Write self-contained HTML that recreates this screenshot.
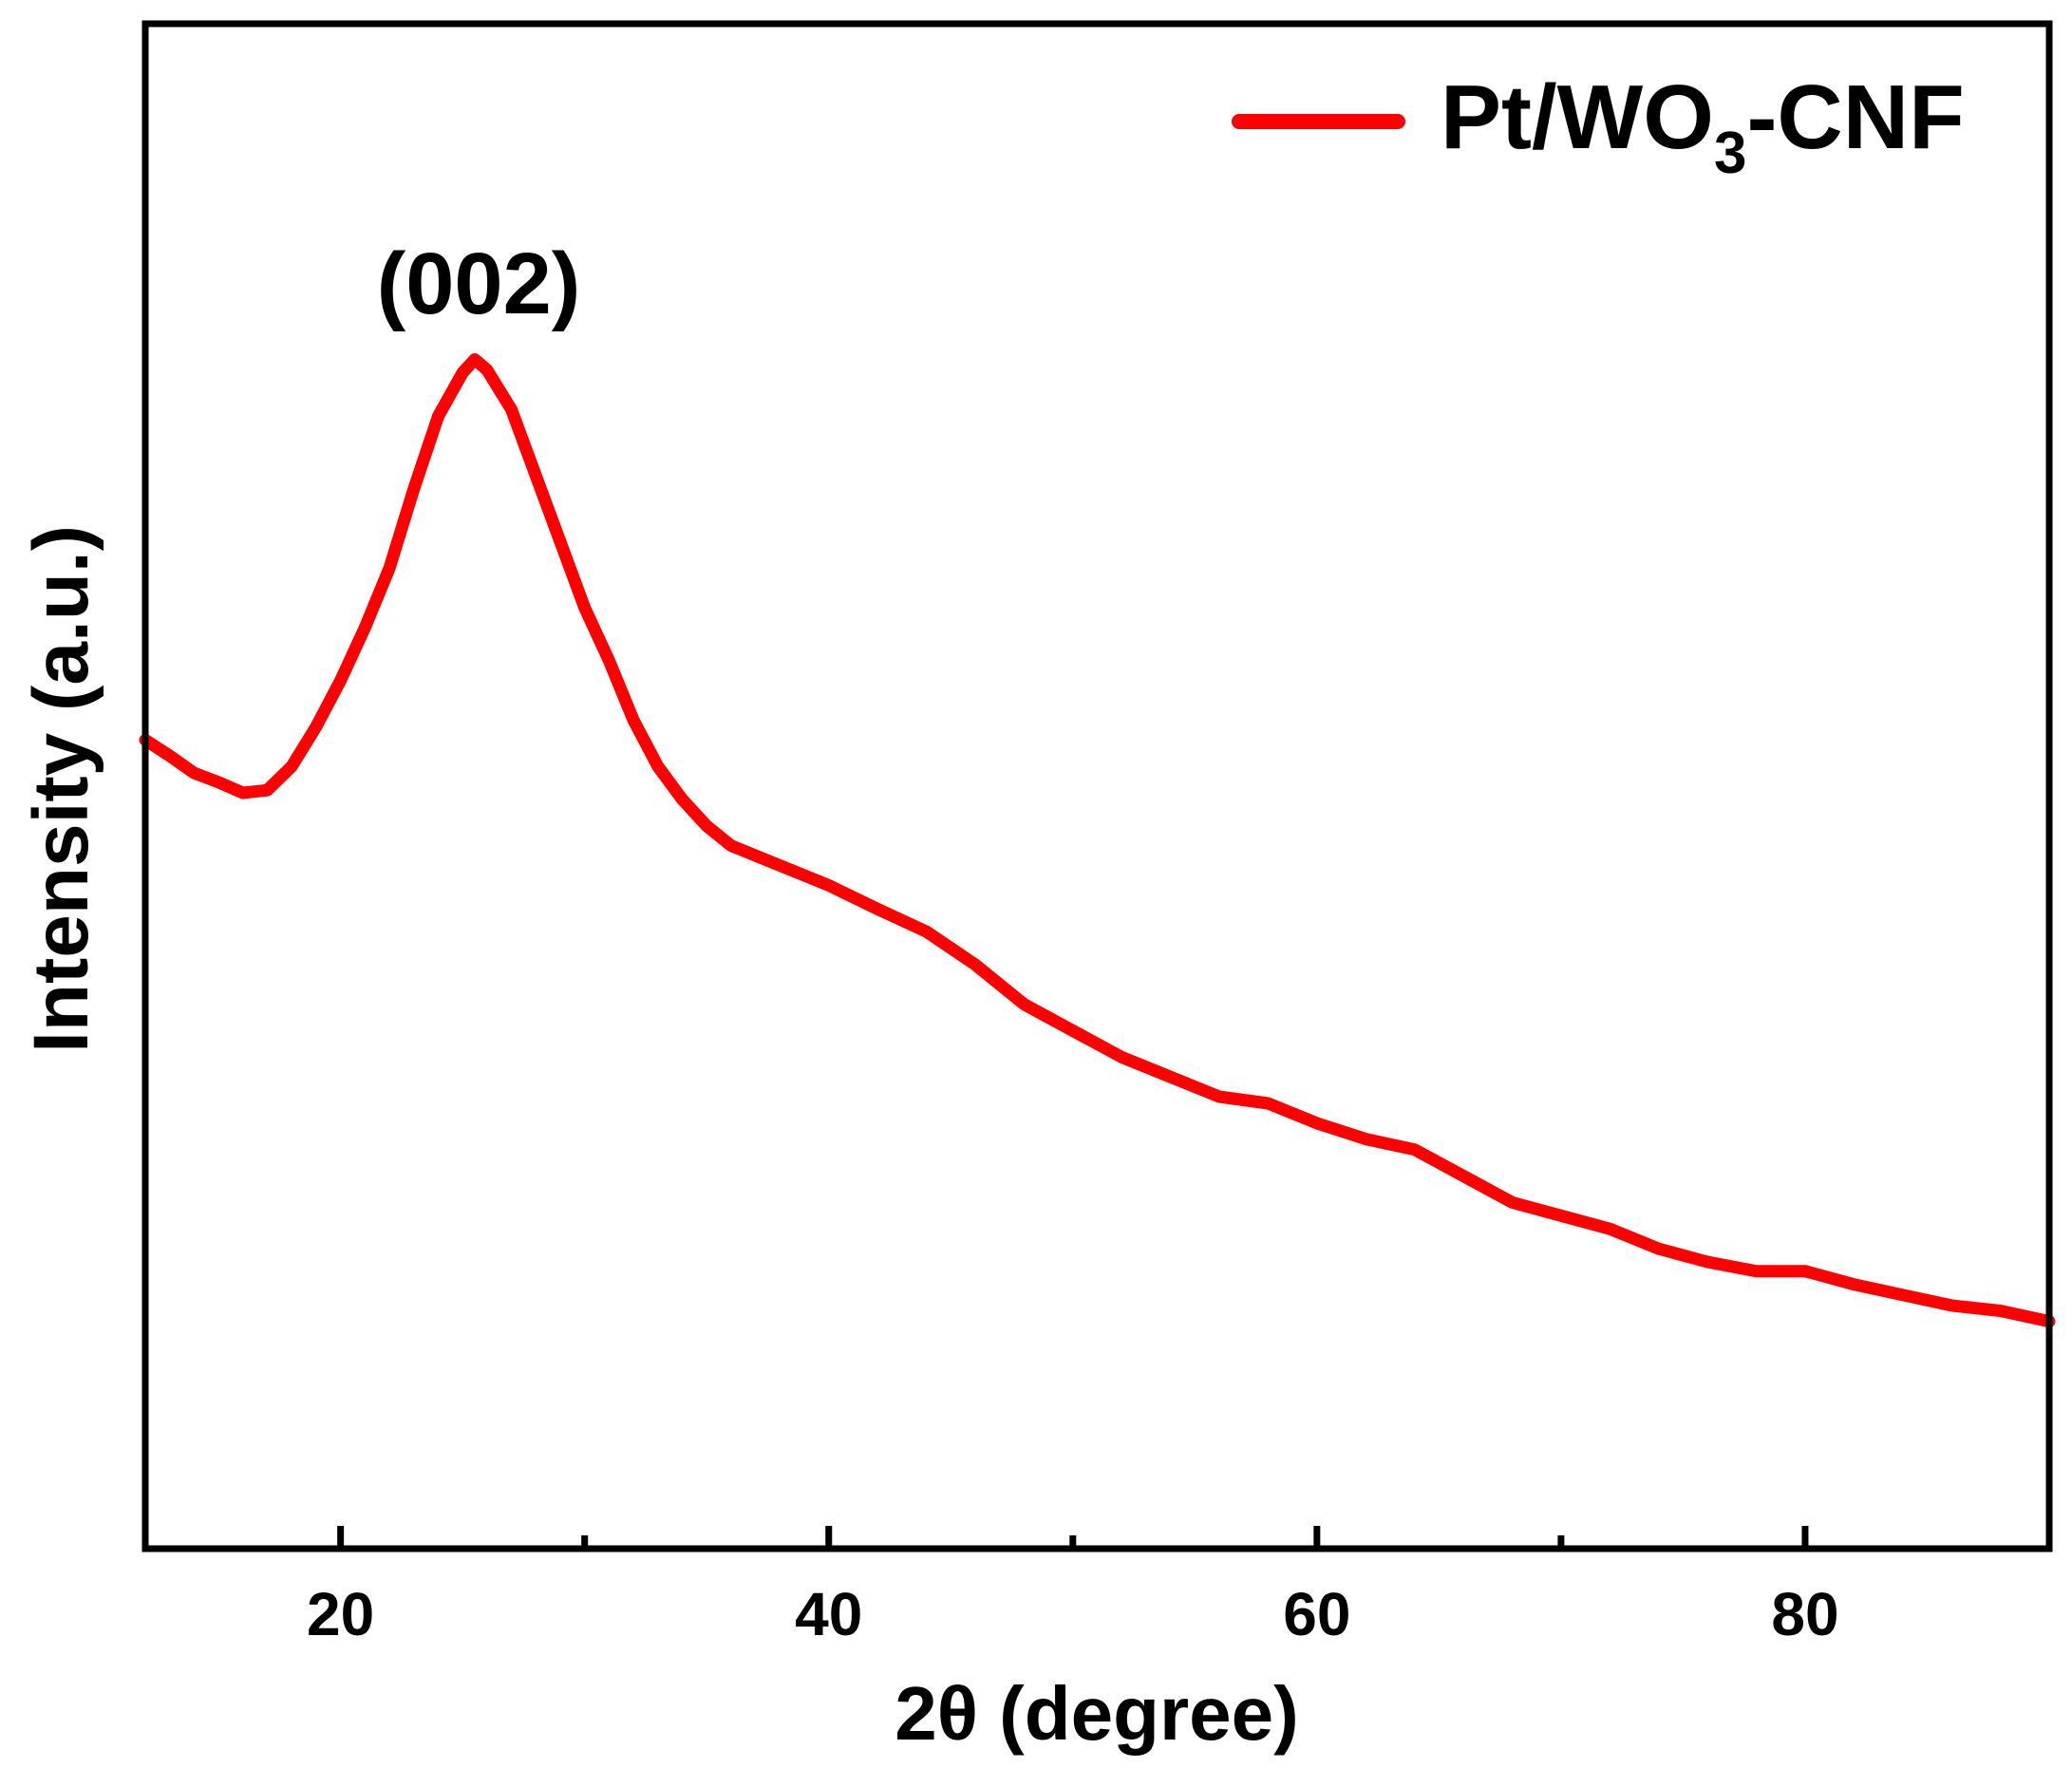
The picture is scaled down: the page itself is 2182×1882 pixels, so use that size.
<!DOCTYPE html>
<html><head><meta charset="utf-8"><style>
html,body{margin:0;padding:0;background:#fff;}
svg{display:block;font-family:"Liberation Sans",sans-serif;font-weight:bold;}
</style></head><body>
<svg id="chart" width="2182" height="1882" viewBox="0 0 2182 1882">
<rect x="0" y="0" width="2182" height="1882" fill="#fff"/>
<g id="ticks"></g>
<path id="curve" fill="none" stroke="#ff0000" stroke-width="13" stroke-linejoin="round" stroke-linecap="round"/>
<rect x="153" y="25" width="2005" height="1606" fill="none" stroke="#000" stroke-width="7"/>
<text x="504" y="330" font-size="92" text-anchor="middle">(002)</text>
<line x1="1305" y1="128" x2="1472" y2="128" stroke="#ff0000" stroke-width="16" stroke-linecap="round"/>
<text x="1517" y="156" font-size="96">Pt/WO<tspan font-size="62" dy="26">3</tspan><tspan dy="-26">-CNF</tspan></text>
<text x="1155" y="1832" font-size="80" text-anchor="middle">2θ (degree)</text>
<text transform="translate(92,831) rotate(-90)" font-size="82" text-anchor="middle">Intensity (a.u.)</text>
</svg>
<script>
const xVals=[12,13,14,15,16,17,18,19,20,21,22,23,24,25,25.5,26,27,28,29,30,31,32,33,34,35,36,38,40,42,44,46,48,50,52,54,56,58,60,62,64,66,68,70,72,74,76,78,80,82,84,86,88,90];
const intensity=[612,600,587,580,572,574,592,622,657,697,742,802,857,890,900,892,862,812,762,712,672,627,592,567,547,532,517,502,484,467,442,412,392,372,357,342,337,322,310,302,282,262,252,242,227,217,210,210,200,192,184,180,172];
const xTicks=[20,40,60,80];
const xMinor=[30,50,70];
const X0=153,X1=2158,Y0=1631,Y1=25;
function sx(v){return X0+(v-12)/(90-12)*(X1-X0);}
function sy(v){return Y0-v/1154*(Y0-Y1);}
const ns="http://www.w3.org/2000/svg";
let d="";
for(let i=0;i<xVals.length;i++){d+=(i?"L":"M")+sx(xVals[i]).toFixed(1)+","+sy(intensity[i]).toFixed(1);}
document.getElementById("curve").setAttribute("d",d);
const g=document.getElementById("ticks");
xTicks.forEach(t=>{
  const l=document.createElementNS(ns,"line");
  l.setAttribute("x1",sx(t));l.setAttribute("x2",sx(t));
  l.setAttribute("y1",Y0);l.setAttribute("y2",Y0-24);
  l.setAttribute("stroke","#000");l.setAttribute("stroke-width","7");
  
  
  g.appendChild(l);
  const tx=document.createElementNS(ns,"text");
  tx.setAttribute("x",sx(t));tx.setAttribute("y",1722);
  tx.setAttribute("font-size","64");tx.setAttribute("text-anchor","middle");
  tx.textContent=t;
  
  
  g.appendChild(tx);
});
xMinor.forEach(t=>{
  const l=document.createElementNS(ns,"line");
  l.setAttribute("x1",sx(t));l.setAttribute("x2",sx(t));
  l.setAttribute("y1",Y0);l.setAttribute("y2",Y0-14);
  l.setAttribute("stroke","#000");l.setAttribute("stroke-width","7");
  
  
  g.appendChild(l);
});
</script>
</body></html>
